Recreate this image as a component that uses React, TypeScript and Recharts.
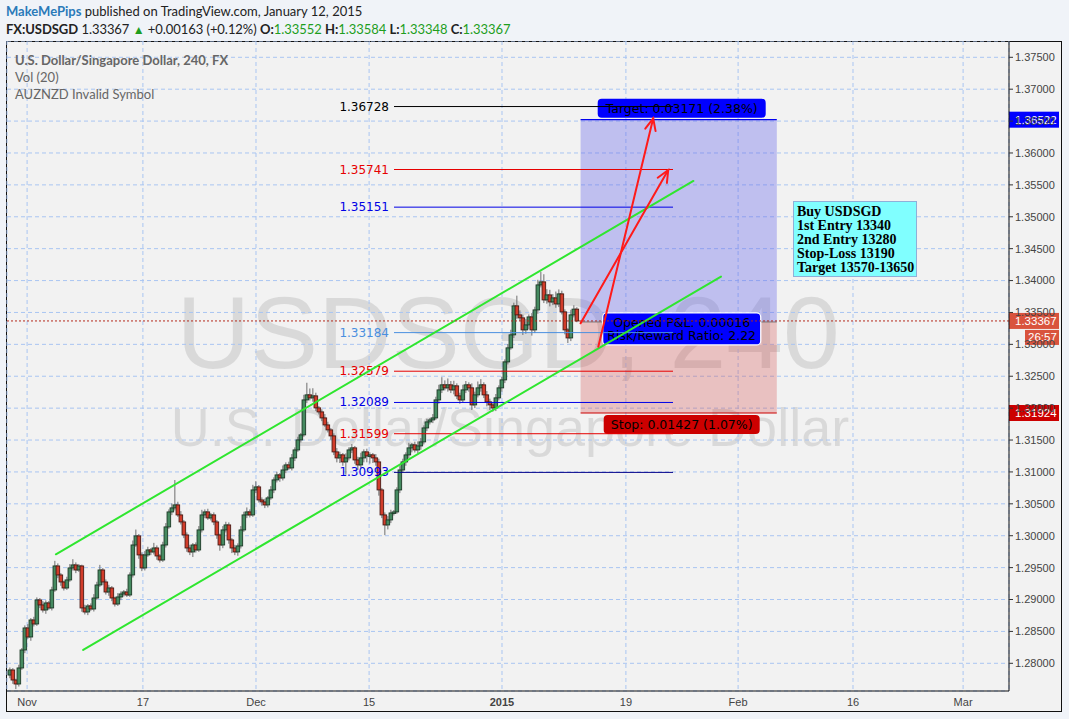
import React from 'react';
import { ComposedChart, Bar, XAxis, YAxis, CartesianGrid, ReferenceLine, ReferenceArea } from 'recharts';

// ---------- data ----------
const firstOpen = 1.27816;
const closes = [
  1.27895, 1.27738, 1.27676, 1.27927, 1.28209, 1.28554, 1.28413, 1.28679, 1.28617, 1.28993,
  1.28915, 1.28836, 1.28946, 1.28868, 1.29150, 1.29526, 1.29385, 1.29275, 1.29181, 1.29307,
  1.29495, 1.29542, 1.29463, 1.29526, 1.28868, 1.28805, 1.28899, 1.28852, 1.29024, 1.29228,
  1.29463, 1.29275, 1.29118, 1.29181, 1.29024, 1.28930, 1.29040, 1.29087, 1.29118, 1.29071,
  1.29385, 1.29855, 1.29997, 1.29699, 1.29495, 1.29699, 1.29777, 1.29746, 1.29808, 1.29683,
  1.29620, 1.29855, 1.30138, 1.30373, 1.30436, 1.30483, 1.30326, 1.30216, 1.30012, 1.29808,
  1.29746, 1.29855, 1.29777, 1.30091, 1.30326, 1.30373, 1.30279, 1.30326, 1.30216, 1.30012,
  1.29855, 1.30091, 1.30169, 1.29934, 1.29808, 1.29746, 1.29840, 1.30091, 1.30326, 1.30373,
  1.30326, 1.30718, 1.30765, 1.30561, 1.30530, 1.30483, 1.30593, 1.30718, 1.30875, 1.30953,
  1.30906, 1.31031, 1.31110, 1.31063, 1.31220, 1.31345, 1.31502, 1.31581, 1.32129, 1.32208,
  1.32161, 1.32192, 1.32004, 1.31941, 1.31847, 1.31737, 1.31659, 1.31565, 1.31314, 1.31220,
  1.31267, 1.31157, 1.31220, 1.31345, 1.31377, 1.31188, 1.31110, 1.31220, 1.31314, 1.31251,
  1.31267, 1.31220, 1.31157, 1.30718, 1.30326, 1.30169, 1.30248, 1.30357, 1.30373, 1.30718,
  1.31031, 1.31157, 1.31267, 1.31377, 1.31424, 1.31345, 1.31408, 1.31471, 1.31690, 1.31784,
  1.31815, 1.31847, 1.32129, 1.32286, 1.32365, 1.32318, 1.32365, 1.32286, 1.32349, 1.32192,
  1.32129, 1.32286, 1.32365, 1.32318, 1.32051, 1.32208, 1.32318, 1.32365, 1.32208, 1.32098,
  1.32051, 1.32004, 1.32161, 1.32318, 1.32443, 1.32725, 1.32945, 1.33149, 1.33603, 1.33462,
  1.33415, 1.33227, 1.33305, 1.33430, 1.33227, 1.33540, 1.33932, 1.33979, 1.33697, 1.33775,
  1.33665, 1.33728, 1.33634, 1.33791, 1.33509, 1.33227, 1.33101, 1.33462, 1.33552, 1.33367,
];
// wick lengths in pips (0.0001) above / below the body
const upperWickPips = [
  4, 3, 2, 5, 3, 4, 6, 3, 5, 4,
  3, 6, 4, 3, 5, 8, 4, 3, 2, 5,
  6, 9, 4, 3, 2, 5, 3, 4, 6, 5,
  8, 3, 4, 5, 3, 2, 6, 4, 3, 5,
  4, 7, 10, 3, 4, 6, 5, 3, 8, 4,
  3, 5, 6, 4, 7, 39, 5, 6, 3, 4,
  5, 3, 4, 6, 8, 4, 5, 3, 4, 3,
  2, 6, 5, 4, 3, 5, 4, 6, 5, 7,
  4, 8, 9, 3, 4, 5, 3, 6, 4, 5,
  3, 7, 4, 5, 6, 4, 5, 3, 8, 19,
  10, 12, 5, 3, 4, 6, 5, 3, 4, 6,
  5, 3, 7, 4, 6, 3, 5, 8, 4, 5,
  4, 3, 6, 5, 3, 4, 6, 5, 3, 4,
  6, 5, 4, 8, 3, 5, 7, 6, 4, 5,
  3, 6, 5, 8, 12, 7, 10, 6, 8, 4,
  5, 8, 6, 4, 7, 5, 10, 9, 4, 6,
  5, 3, 6, 4, 5, 4, 6, 8, 5, 16,
  7, 5, 9, 4, 6, 5, 8, 16, 12, 9,
  8, 6, 10, 7, 5, 4, 3, 8, 6, 3,
];
const lowerWickPips = [
  5, 6, 8, 4, 3, 5, 3, 6, 4, 3,
  5, 4, 6, 3, 4, 3, 5, 6, 4, 3,
  3, 4, 5, 3, 6, 4, 5, 3, 4, 3,
  3, 5, 4, 6, 5, 4, 3, 5, 4, 3,
  3, 4, 3, 6, 5, 4, 3, 5, 4, 6,
  4, 3, 4, 3, 5, 4, 3, 4, 5, 6,
  5, 8, 4, 3, 4, 5, 3, 4, 5, 6,
  9, 5, 4, 6, 8, 5, 6, 4, 3, 5,
  4, 3, 5, 4, 6, 5, 4, 3, 5, 4,
  6, 4, 5, 3, 4, 5, 3, 4, 3, 5,
  4, 6, 5, 4, 5, 3, 4, 6, 5, 7,
  8, 6, 20, 4, 5, 6, 8, 5, 7, 10,
  12, 8, 6, 9, 5, 16, 7, 5, 4, 3,
  5, 4, 6, 5, 7, 4, 5, 6, 4, 5,
  4, 5, 3, 6, 5, 4, 6, 5, 7, 5,
  6, 4, 5, 6, 8, 5, 4, 6, 5, 7,
  8, 6, 5, 4, 6, 5, 4, 3, 5, 6,
  5, 8, 6, 7, 9, 5, 6, 4, 5, 6,
  7, 5, 6, 5, 4, 7, 8, 5, 4, 2,
];

const timeTickIdx = [5.7, 44.3, 82, 119.7, 164, 205.3, 242.7, 281, 317.7];
const timeTickLabels = ['Nov', '17', 'Dec', '15', '2015', '19', 'Feb', '16', 'Mar'];
const priceTicks = [1.28, 1.285, 1.29, 1.295, 1.3, 1.305, 1.31, 1.315, 1.32, 1.325, 1.33, 1.335, 1.34, 1.345, 1.35, 1.355, 1.36, 1.365, 1.37, 1.375];

const levelPrices = [1.36728, 1.35741, 1.35151, 1.33184, 1.32579, 1.32089, 1.31599, 1.30993];
const levelLabelColors = ['#000000', '#e60000', '#0000e6', '#4a8fe0', '#e60000', '#0000e6', '#e60000', '#0000e6'];
const levelLineColors = ['#000000', '#e60000', '#0000e6', '#4a8fe0', '#e60000', '#0000e6', '#e60000', '#00008a'];
const levelStartIdx = 128;
const levelEndIdx = 221;

const channelUpper = [{ x: 15.3, y: 1.29709 }, { x: 227.8, y: 1.35561 }];
const channelLower = [{ x: 24.4, y: 1.28209 }, { x: 237, y: 1.34061 }];
const arrowA = [{ x: 190.2, y: 1.3333 }, { x: 219.4, y: 1.35733 }];
const arrowB = [{ x: 196.1, y: 1.32963 }, { x: 214.4, y: 1.36544 }];

const entryPrice = 1.33351;
const targetPrice = 1.36522;
const stopPrice = 1.31924;
const positionStartIdx = 190.2;
const positionEndIdx = 255.6;
const lastPrice = 1.33367;

const data = closes.map((c, i) => {
  const o = i === 0 ? firstOpen : closes[i - 1];
  const high = Math.max(o, c) + upperWickPips[i] * 0.0001;
  const low = Math.min(o, c) - lowerWickPips[i] * 0.0001;
  return { idx: i, open: o, close: c, high, low, range: [low, high] };
});

const DV = 'DejaVu Sans, Verdana, sans-serif';
const AR = 'Liberation Sans, Arial, sans-serif';

// ---------- shapes ----------
const Candle = (props: any) => {
  let { x, y, width, height, payload } = props;
  if (height < 0) { y += height; height = -height; }
  const { open, close, high, low } = payload;
  const ratio = height / (high - low);
  const cx = x + width / 2;
  const yO = y + (high - open) * ratio;
  const yC = y + (high - close) * ratio;
  const up = close >= open;
  const top = Math.min(yO, yC);
  const h = Math.max(1.5, Math.abs(yO - yC));
  return (
    <g>
      <line x1={cx} x2={cx} y1={y} y2={y + height} stroke="#6e6e6e" strokeWidth={1} />
      <rect x={cx - 1.8} y={top} width={3.6} height={h} fill={up ? '#458a60' : '#d23c2a'} stroke={up ? '#1c3a27' : '#4a1a14'} strokeWidth={0.9} />
    </g>
  );
};

const makeLevel = (price: number, lineColor: string, labelColor: string) => (p: any) => (
  <g>
    <line x1={p.x1} y1={p.y1} x2={p.x2} y2={p.y2} stroke={lineColor} strokeWidth={1} />
    <text x={Math.min(p.x1, p.x2) - 5} y={p.y1} textAnchor="end" dominantBaseline="central" fontFamily={DV} fontSize={12} fill={labelColor}>
      {price.toFixed(5)}
    </text>
  </g>
);

const ArrowShape = (p: any) => {
  const { x1, y1, x2, y2 } = p;
  const a = Math.atan2(y2 - y1, x2 - x1);
  const L = 13;
  const s = 0.42;
  const hx1 = x2 - L * Math.cos(a - s), hy1 = y2 - L * Math.sin(a - s);
  const hx2 = x2 - L * Math.cos(a + s), hy2 = y2 - L * Math.sin(a + s);
  return (
    <g stroke="#ff1a1a" strokeWidth={2} fill="none" strokeLinecap="round">
      <line x1={x1} y1={y1} x2={x2} y2={y2} />
      <polyline points={`${hx1},${hy1} ${x2},${y2} ${hx2},${hy2}`} />
    </g>
  );
};

const ChannelShape = (p: any) => (
  <line x1={p.x1} y1={p.y1} x2={p.x2} y2={p.y2} stroke="#2fe62f" strokeWidth={2} strokeLinecap="round" />
);

const TargetZone = (p: any) => {
  const { x, y, width, height } = p;
  const cx = x + width / 2 + 3;
  return (
    <g>
      <rect x={x} y={y} width={width} height={height} fill="rgba(100,100,232,0.36)" />
      <line x1={x} x2={x + width} y1={y} y2={y} stroke="#0000ee" strokeWidth={1.2} />
      <rect x={cx - 84} y={y - 21} width={168} height={19} rx={4} fill="#0000ff" />
      <text x={cx} y={y - 11.5} textAnchor="middle" dominantBaseline="central" fontFamily={DV} fontSize={12.5} fill="#000">
        Target: 0.03171 (2.38%)
      </text>
    </g>
  );
};

const StopZone = (p: any) => {
  const { x, y, width, height } = p;
  const cx = x + width / 2 + 3;
  const bottom = y + height;
  return (
    <g>
      <rect x={x} y={y} width={width} height={height} fill="rgba(212,80,80,0.3)" />
      <line x1={x} x2={x + width} y1={bottom} y2={bottom} stroke="#cc0000" strokeWidth={1.2} />
      <line x1={x} x2={x + width} y1={y} y2={y} stroke="#777" strokeWidth={1} />
      <rect x={cx - 78} y={bottom + 2} width={156} height={19} rx={4} fill="#cc0000" />
      <text x={cx} y={bottom + 11.5} textAnchor="middle" dominantBaseline="central" fontFamily={DV} fontSize={12.5} fill="#000">
        Stop: 0.01427 (1.07%)
      </text>
      <rect x={cx - 79} y={y - 9} width={158} height={32} rx={4} fill="#0000ff" stroke="#ffffff" strokeWidth={1.2} />
      <text x={cx} y={y + 0.5} textAnchor="middle" dominantBaseline="central" fontFamily={DV} fontSize={12.5} fill="#000">
        Opened P&amp;L: 0.00016
      </text>
      <text x={cx} y={y + 14} textAnchor="middle" dominantBaseline="central" fontFamily={DV} fontSize={12.5} fill="#000">
        Risk/Reward Ratio: 2.22
      </text>
    </g>
  );
};

const makeTag = (text: string, bg: string, dotted: boolean, sub?: string) => (p: any) => {
  const left = Math.min(p.x1, p.x2);
  const right = Math.max(p.x1, p.x2);
  const y = p.y1;
  return (
    <g>
      {dotted && <line x1={left} x2={right} y1={y} y2={y} stroke="#b52a1c" strokeWidth={1} strokeDasharray="2 2" />}
      <rect x={right} y={y - 8} width={50} height={16} fill={bg} />
      <text x={right + 6} y={y} dominantBaseline="central" fontFamily={AR} fontSize={11.5} fill="#fff">{text}</text>
      {sub && <rect x={right + 16} y={y + 9} width={34} height={15} fill={bg} />}
      {sub && <text x={right + 19} y={y + 16.5} dominantBaseline="central" fontFamily={AR} fontSize={11.5} fill="#fff">{sub}</text>}
    </g>
  );
};

const TimeTick = (p: any) => {
  const i = timeTickIdx.indexOf(p.payload.value);
  const label = timeTickLabels[i];
  return (
    <text x={p.x} y={p.y + 11} textAnchor="middle" dominantBaseline="central" fontFamily={AR} fontSize={11} fill="#444" fontWeight={label === '2015' ? 700 : 400}>
      {label}
    </text>
  );
};

export default function App() {
  return (
    <div style={{ position: 'absolute', left: 0, top: 0, width: 1069, height: 719, background: '#f0f3f8', overflow: 'hidden' }}>
      {/* header */}
      <div style={{ position: 'absolute', left: 6, top: 4, fontFamily: 'Lato, sans-serif', fontSize: 13, color: '#222', whiteSpace: 'nowrap', lineHeight: '15px' }}>
        <span style={{ color: '#2a7ab9', fontWeight: 700 }}>MakeMePips</span> published on TradingView.com, January 12, 2015
      </div>
      <div style={{ position: 'absolute', left: 6, top: 22, fontFamily: 'Lato, sans-serif', fontSize: 13, color: '#222', whiteSpace: 'nowrap', lineHeight: '15px', letterSpacing: '-0.05px' }}>
        <b>FX:USDSGD</b> 1.33367 <span style={{ color: '#1e9e1e', fontSize: 12 }}>▲</span> +0.00163 (+0.12%){' '}
        <b>O:</b><span style={{ color: '#1e9e1e' }}>1.33552</span>{' '}
        <b>H:</b><span style={{ color: '#1e9e1e' }}>1.33584</span>{' '}
        <b>L:</b><span style={{ color: '#1e9e1e' }}>1.33348</span>{' '}
        <b>C:</b><span style={{ color: '#1e9e1e' }}>1.33367</span>
      </div>

      {/* chart box */}
      <div style={{ position: 'absolute', left: 6, top: 41, width: 1056, height: 671, background: '#f2f2f2', border: '1px solid #111', boxSizing: 'border-box' }} />

      {/* watermark */}
      <svg style={{ position: 'absolute', left: 0, top: 0 }} width={1069} height={719}>
        <text x={508} y={368} textAnchor="middle" fontFamily={AR} fontSize={102} fill="rgba(0,0,0,0.1)">USDSGD, 240</text>
        <text x={510} y={446} textAnchor="middle" fontFamily={AR} fontSize={54} fill="rgba(0,0,0,0.1)">U.S. Dollar/Singapore Dollar</text>
      </svg>

      <div style={{ position: 'absolute', left: 6, top: 41 }}>
        <ComposedChart width={1056} height={671} data={data} margin={{ top: 0, right: 0, bottom: 0, left: 1 }}>
          <CartesianGrid stroke="#a9c5f2" strokeDasharray="4 3" />
          <XAxis
            dataKey="idx"
            type="number"
            domain={[-1, 333]}
            ticks={timeTickIdx}
            interval={0}
            allowDataOverflow
            height={21}
            tickSize={0}
            tickMargin={0}
            tick={<TimeTick />}
            axisLine={{ stroke: '#111' }}
          />
          <YAxis
            orientation="right"
            type="number"
            domain={[1.275658, 1.377555]}
            ticks={priceTicks}
            interval={0}
            allowDataOverflow
            width={53}
            tickSize={4}
            tickMargin={2}
            tickFormatter={(v: number) => v.toFixed(5)}
            tick={{ fill: '#444', fontSize: 11, fontFamily: AR }}
            tickLine={{ stroke: '#333' }}
            axisLine={{ stroke: '#111' }}
          />
          <ReferenceArea x1={positionStartIdx} x2={positionEndIdx} y1={entryPrice} y2={targetPrice} shape={<TargetZone />} ifOverflow="visible" />
          <ReferenceArea x1={positionStartIdx} x2={positionEndIdx} y1={stopPrice} y2={entryPrice} shape={<StopZone />} ifOverflow="visible" />
          {levelPrices.map((lp, i) => (
            <ReferenceLine
              key={lp}
              segment={[{ x: levelStartIdx, y: lp }, { x: levelEndIdx, y: lp }]}
              shape={makeLevel(lp, levelLineColors[i], levelLabelColors[i])}
              ifOverflow="visible"
            />
          ))}
          <Bar dataKey="range" barSize={3} shape={<Candle />} isAnimationActive={false} />
          <ReferenceLine segment={channelUpper} shape={ChannelShape} ifOverflow="visible" />
          <ReferenceLine segment={channelLower} shape={ChannelShape} ifOverflow="visible" />
          <ReferenceLine segment={arrowA} shape={ArrowShape} ifOverflow="visible" />
          <ReferenceLine segment={arrowB} shape={ArrowShape} ifOverflow="visible" />
          <ReferenceLine y={lastPrice} shape={makeTag(lastPrice.toFixed(5), '#d9533d', true, '26:57')} ifOverflow="visible" />
          <ReferenceLine y={targetPrice} shape={makeTag(targetPrice.toFixed(5), '#0000ff', false)} ifOverflow="visible" />
          <ReferenceLine y={stopPrice} shape={makeTag(stopPrice.toFixed(5), '#cc0000', false)} ifOverflow="visible" />
        </ComposedChart>
      </div>

      {/* chart title overlay */}
      <div style={{ position: 'absolute', left: 15, top: 52, fontFamily: 'Lato, sans-serif', fontSize: 13, color: '#666', lineHeight: '17px', whiteSpace: 'nowrap' }}>
        <div style={{ fontWeight: 700 }}>U.S. Dollar/Singapore Dollar, 240, FX</div>
        <div>Vol (20)</div>
        <div>AUZNZD Invalid Symbol</div>
      </div>

      {/* note box */}
      <div style={{ position: 'absolute', left: 793, top: 201, width: 124, height: 76, boxSizing: 'border-box', background: '#80ffff', border: '1px solid #8fb0d8', fontFamily: 'Liberation Serif, Times New Roman, serif', fontWeight: 700, fontSize: 14, lineHeight: '14px', padding: '3px 3px', color: '#000', whiteSpace: 'nowrap' }}>
        <div>Buy USDSGD</div>
        <div>1st Entry 13340</div>
        <div>2nd Entry 13280</div>
        <div>Stop-Loss 13190</div>
        <div>Target 13570-13650</div>
      </div>
    </div>
  );
}
